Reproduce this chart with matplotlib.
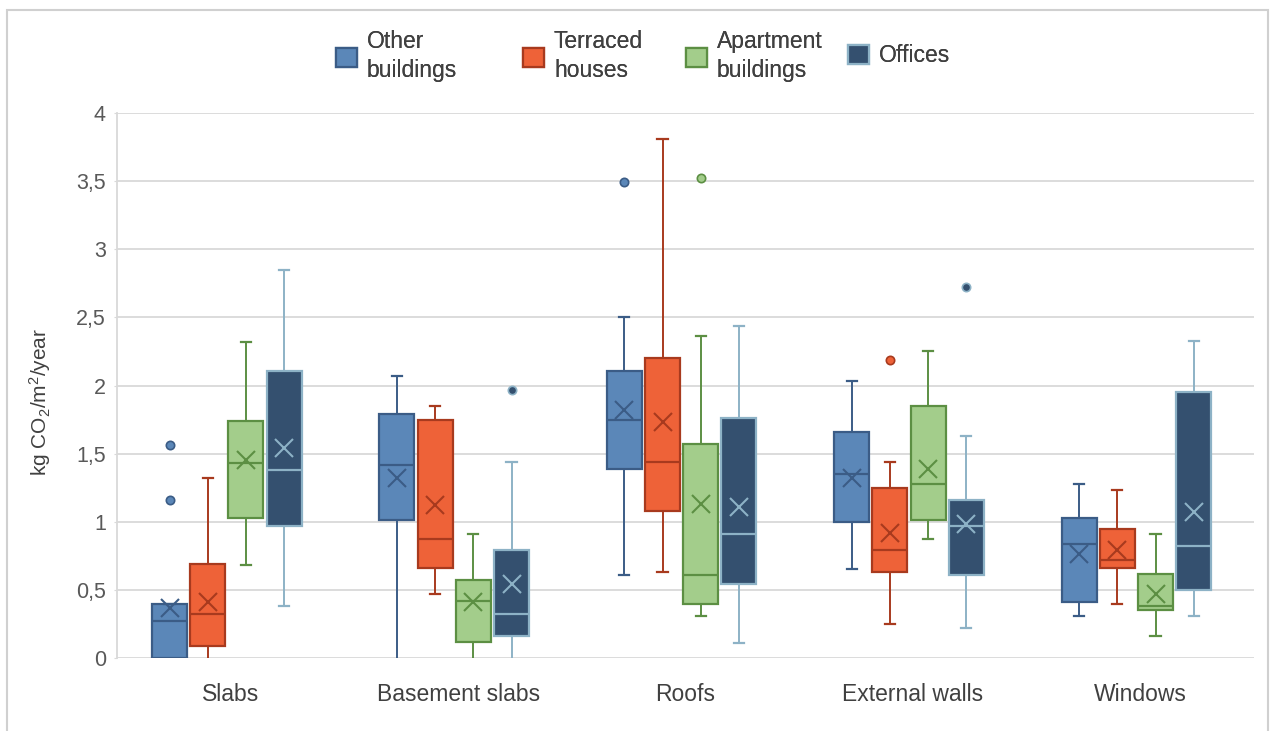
import matplotlib
matplotlib.use("Agg")
import matplotlib.pyplot as plt
from matplotlib.patches import Patch, Rectangle

plt.rcParams['font.family'] = ['Liberation Sans', 'DejaVu Sans']
plt.rcParams['mathtext.fontset'] = 'custom'
plt.rcParams['mathtext.rm'] = 'Liberation Sans'
plt.rcParams['mathtext.it'] = 'Liberation Sans'
plt.rcParams['mathtext.default'] = 'regular'

categories = ["Slabs", "Basement slabs", "Roofs", "External walls", "Windows"]
series = ["Other\nbuildings", "Terraced\nhouses", "Apartment\nbuildings", "Offices"]

# Box statistics, one row per series, one column per category
q1 = [
    [0.00, 1.01, 1.39, 1.00, 0.41],
    [0.09, 0.66, 1.08, 0.63, 0.66],
    [1.03, 0.12, 0.40, 1.01, 0.35],
    [0.97, 0.16, 0.54, 0.61, 0.50],
]
median = [
    [0.27, 1.42, 1.75, 1.35, 0.84],
    [0.32, 0.87, 1.44, 0.79, 0.72],
    [1.43, 0.42, 0.61, 1.28, 0.38],
    [1.38, 0.32, 0.91, 0.97, 0.82],
]
q3 = [
    [0.40, 1.79, 2.11, 1.66, 1.03],
    [0.69, 1.75, 2.20, 1.25, 0.95],
    [1.74, 0.57, 1.57, 1.85, 0.62],
    [2.11, 0.79, 1.76, 1.16, 1.95],
]
whisker_low = [
    [0.00, 0.00, 0.61, 0.65, 0.31],
    [0.00, 0.47, 0.63, 0.25, 0.40],
    [0.68, 0.00, 0.31, 0.87, 0.16],
    [0.38, 0.00, 0.11, 0.22, 0.31],
]
whisker_high = [
    [0.40, 2.07, 2.50, 2.03, 1.28],
    [1.32, 1.85, 3.81, 1.44, 1.23],
    [2.32, 0.91, 2.36, 2.25, 0.91],
    [2.85, 1.44, 2.44, 1.63, 2.33],
]
mean = [
    [0.37, 1.32, 1.82, 1.32, 0.76],
    [0.41, 1.12, 1.73, 0.92, 0.79],
    [1.45, 0.41, 1.13, 1.39, 0.47],
    [1.54, 0.54, 1.11, 0.98, 1.07],
]
outliers = [
    [[1.56, 1.16], [], [3.49], [], []],
    [[], [], [], [2.19], []],
    [[], [], [3.52], [], []],
    [[], [1.97], [], [2.72], []],
]
y_ticks = [0, 0.5, 1, 1.5, 2, 2.5, 3, 3.5, 4]
y_tick_labels = ["0", "0,5", "1", "1,5", "2", "2,5", "3", "3,5", "4"]

fills = ["#5B87B8", "#EE6238", "#A3CD8B", "#34506F"]
edges = ["#3B5C86", "#A83A1E", "#5C8F43", "#8DB2C6"]

fig = plt.figure(figsize=(12.71, 7.31), dpi=100)
ax = fig.add_axes([117 / 1271, 1 - 658 / 731, (1254 - 117) / 1271, (658 - 113) / 731])

step = 0.168
shift = -0.017
box_w = 0.154
for s in range(len(series)):
    stats = []
    for c in range(len(categories)):
        stats.append(dict(q1=q1[s][c], med=median[s][c], q3=q3[s][c],
                          whislo=whisker_low[s][c], whishi=whisker_high[s][c],
                          mean=mean[s][c], fliers=outliers[s][c]))
    pos = [c + shift + (s - 1.5) * step for c in range(len(categories))]
    res = ax.bxp(stats, positions=pos, widths=box_w, capwidths=0.045,
                 patch_artist=True, showmeans=True, manage_ticks=False,
                 boxprops=dict(facecolor=fills[s], edgecolor=edges[s], linewidth=1.6),
                 medianprops=dict(color=edges[s], linewidth=1.6),
                 whiskerprops=dict(color=edges[s], linewidth=1.4),
                 capprops=dict(color=edges[s], linewidth=1.6),
                 meanprops=dict(marker='x', markeredgecolor=edges[s],
                                markersize=13, markeredgewidth=1.5),
                 flierprops=dict(marker='o', markerfacecolor=fills[s],
                                 markeredgecolor=edges[s], markersize=6,
                                 markeredgewidth=1.2))
    # caps sitting on the zero baseline are not drawn
    for cap in res['caps']:
        if max(abs(v) for v in cap.get_ydata()) < 1e-9:
            cap.set_visible(False)
    for w in res['whiskers']:
        w.set_zorder(1.5)

ax.set_xlim(-0.5, len(categories) - 0.5)
ax.set_ylim(0, 4)
ax.set_yticks(y_ticks)
ax.set_yticklabels(y_tick_labels)
ax.set_xticks(range(len(categories)))
ax.set_xticklabels(categories)
ax.yaxis.grid(True, color="#D9D9D9", linewidth=1.3, zorder=0)
ax.set_axisbelow(True)
for sp in ["top", "right", "bottom"]:
    ax.spines[sp].set_visible(False)
ax.spines["left"].set_color("#D9D9D9")
ax.spines["left"].set_linewidth(1.3)
ax.tick_params(axis="y", length=2, color="#D9D9D9", labelsize=15.5,
               labelcolor="#595959", pad=6)
ax.tick_params(axis="x", length=0, labelsize=16.5, labelcolor="#404040", pad=18)

fig.text(40 / 1271, 1 - 402 / 731, r"kg CO$_2$/m$^2$/year", rotation=90,
         ha="center", va="center", fontsize=15, color="#404040")

# legend entries placed individually along the top
legend_x = [336, 523, 686, 848]
for s in range(len(series)):
    h = Patch(facecolor=fills[s], edgecolor=edges[s], linewidth=1.6)
    leg = fig.legend(handles=[h], labels=[series[s]], loc="center left",
                     bbox_to_anchor=(legend_x[s] / 1271, 1 - 56 / 731),
                     frameon=False, borderpad=0, borderaxespad=0,
                     handlelength=0.9, handleheight=0.9, handletextpad=0.45,
                     fontsize=16.5, labelcolor="#404040")
    for t in leg.get_texts():
        t.set_linespacing(1.3)
    fig.add_artist(leg)

fig.add_artist(Rectangle((7 / 1271, -0.05), (1268 - 7) / 1271, 1 - 10 / 731 + 0.05,
                         transform=fig.transFigure, fill=False,
                         edgecolor="#D0D0D0", linewidth=1.5, clip_on=False))

fig.savefig("out.png", dpi=100)
